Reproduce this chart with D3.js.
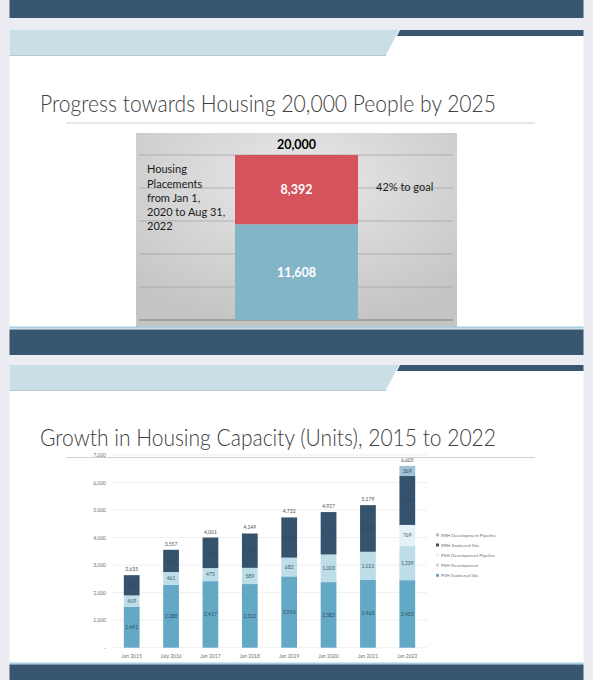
<!DOCTYPE html>
<html><head><meta charset="utf-8">
<script src="https://cdn.jsdelivr.net/npm/d3@7"></script>
<style>body{margin:0;background:#ecedf2;}svg{display:block;}</style>
</head><body>
<svg id="c" width="593" height="680"></svg>
<script>
// ---- Data: chart 1 ----
const goalValue = 20000;
const progressLabels = ["Placed", "Remaining"];
const progressValues = [11608, 8392];
const progressTicks = [0, 4000, 8000, 12000, 16000, 20000];
const noteLines = ["Housing", "Placements", "from Jan 1,", "2020 to Aug 31,", "2022"];
const pctText = "42% to goal";

// ---- Data: chart 2 ----
const periods = ["Jan 2015", "July 2016", "Jan 2017", "Jan 2018", "Jan 2019", "Jan 2020", "Jan 2021", "Jan 2022"];
const seriesNames = ["PSH Scattered Site", "PSH Development", "PSH Development Pipeline", "RRH Scattered Site", "RRH Development Pipeline"];
const pshScattered = [1491, 2288, 2417, 2312, 2590, 2383, 2463, 2452];
const pshDevelopment = [409, 461, 475, 589, 682, 1003, 1021, 1239];
const pshPipeline = [0, 0, 0, 0, 0, 0, 0, 769];
const rrhScattered = [735, 808, 1109, 1248, 1460, 1541, 1695, 1776];
const rrhPipeline = [0, 0, 0, 0, 0, 0, 0, 369];
const totals = [2635, 3557, 4001, 4149, 4732, 4927, 5179, 6605];
const yTicks2 = [0, 1000, 2000, 3000, 4000, 5000, 6000, 7000];

const svg = d3.select("#c");
const dark = "#38566f";
const band = "#c9dfe6";
const fmt = d3.format(",");
const FONT = "Lato, 'Open Sans', sans-serif";

svg.append("rect").attr("width",593).attr("height",680).attr("fill","#ecedf2");

// slide remnants
svg.append("rect").attr("x",9.5).attr("y",0).attr("width",574).attr("height",18).attr("fill",dark);

function slide(top, bottom, title, titleY) {
  svg.append("rect").attr("x",9.5).attr("y",top).attr("width",574).attr("height",bottom-top).attr("fill","#fff");
  svg.append("polygon").attr("points",`9.5,${top} 399,${top} 386,${top+25} 9.5,${top+25}`).attr("fill",band);
  svg.append("line").attr("x1",9.5).attr("x2",386).attr("y1",top+25.5).attr("y2",top+25.5).attr("stroke","#b7c6cf").attr("stroke-width",1);
  svg.append("polygon").attr("points",`400,${top} 583.5,${top} 583.5,${top+6} 397,${top+6}`).attr("fill",dark);
  svg.append("text").attr("x",40).attr("y",titleY).attr("font-family",FONT).attr("font-weight",300)
    .attr("font-size",23.5).attr("fill","#404040").attr("textLength",456).attr("lengthAdjust","spacingAndGlyphs").text(title);
  svg.append("line").attr("x1",66).attr("x2",535).attr("y1",titleY+11.5).attr("y2",titleY+11.5).attr("stroke","#cfcfd4").attr("stroke-width",1);
}

slide(30, 327, "Progress towards Housing 20,000 People by 2025", 111.5);

// ---- Chart 1 ----
const defs = svg.append("defs");
const rg = defs.append("radialGradient").attr("id","gbg").attr("cx","50%").attr("cy","25%").attr("r","75%");
rg.append("stop").attr("offset","0%").attr("stop-color","#e9e9e9");
rg.append("stop").attr("offset","100%").attr("stop-color","#c4c4c4");
svg.append("rect").attr("x",136).attr("y",133).attr("width",321).attr("height",194).attr("fill","url(#gbg)");

const y1 = d3.scaleLinear().domain([0, goalValue]).range([320, 155]);
const x1 = d3.scaleBand().domain(["goal"]).range([136, 457]).paddingInner(0).paddingOuter(0.805);
svg.append("g").selectAll("line").data(progressTicks).join("line")
  .attr("x1",139).attr("x2",453).attr("y1",d=>y1(d)).attr("y2",d=>y1(d))
  .attr("stroke",d=>d===0?"#7f7f7f":"#a6a6a6").attr("stroke-width",d=>d===0?1.2:0.8);

let acc = 0;
const stack1 = progressValues.map((v,i)=>{const s={k:progressLabels[i],y0:acc,y1:acc+v,v}; acc+=v; return s;});
const c1 = ["#84b5c7", "#d5535c"];
svg.append("g").selectAll("rect").data(stack1).join("rect")
  .attr("x",x1("goal")).attr("width",x1.bandwidth())
  .attr("y",d=>y1(d.y1)).attr("height",d=>y1(d.y0)-y1(d.y1)).attr("fill",(d,i)=>c1[i]);
svg.append("g").selectAll("text").data(stack1).join("text")
  .attr("x",x1("goal")+x1.bandwidth()/2).attr("y",d=>y1((d.y0+d.y1)/2)+4.5)
  .attr("text-anchor","middle").attr("font-family",FONT).attr("font-weight","bold").attr("font-size",12.5)
  .attr("fill","#fff").text(d=>fmt(d.v));
svg.append("text").attr("x",x1("goal")+x1.bandwidth()/2).attr("y",y1(goalValue)-6)
  .attr("text-anchor","middle").attr("font-family",FONT).attr("font-weight","bold").attr("font-size",12.5)
  .attr("fill","#000").text(fmt(goalValue));
svg.append("g").selectAll("text").data(noteLines).join("text")
  .attr("x",147).attr("y",(d,i)=>173.3+i*14.2).attr("font-family",FONT).attr("font-size",11).attr("fill","#1a1a1a").text(d=>d);
svg.append("text").attr("x",376).attr("y",191).attr("font-family",FONT).attr("font-size",11).attr("fill","#1a1a1a").text(pctText);

// slide 1 footer
svg.append("rect").attr("x",9.5).attr("y",326.5).attr("width",574).attr("height",2).attr("fill","#a9cde0");
svg.append("rect").attr("x",9.5).attr("y",329.5).attr("width",574).attr("height",25.5).attr("fill",dark);

slide(365, 663, "Growth in Housing Capacity (Units), 2015 to 2022", 446);

// ---- Chart 2 ----
const y2 = d3.scaleLinear().domain([0, 7000]).range([647.7, 455]);
const x2 = d3.scaleBand().domain(periods).range([112, 427]).paddingInner(0.6).paddingOuter(0.3);
svg.append("g").selectAll("line").data(yTicks2).join("line")
  .attr("x1",112).attr("x2",427).attr("y1",d=>y2(d)).attr("y2",d=>y2(d))
  .attr("stroke","#e8e8e8").attr("stroke-width",0.7);
const yAxis = svg.append("g").attr("transform","translate(106,0)")
  .call(d3.axisLeft(y2).tickValues(yTicks2).tickSize(0).tickFormat(d=>d===0?"-":fmt(d)));
yAxis.select(".domain").remove();
yAxis.selectAll("text").attr("font-family",FONT).attr("font-size",5).attr("fill","#6f6f6f").attr("x",0);
const xAxis = svg.append("g").attr("transform","translate(0,650)")
  .call(d3.axisBottom(x2).tickSize(0));
xAxis.select(".domain").remove();
xAxis.selectAll("text").attr("font-family",FONT).attr("font-size",5).attr("fill","#6f6f6f").attr("dy","0.9em");

const seriesData = [pshScattered, pshDevelopment, pshPipeline, rrhScattered, rrhPipeline];
const colors = ["#63a9c6", "#bddde9", "#e4f1f6", "#36536e", "#9fc2d9"];
const labelColors = ["#2f4f65", "#3f5a6e", "#3f5a6e", "#2c4860", "#2f4f65"];
const rows = periods.map((p,i)=>{const r={period:p}; seriesNames.forEach((s,j)=>r[s]=seriesData[j][i]); return r;});
const stacked = d3.stack().keys(seriesNames)(rows);
const g2 = svg.append("g");
stacked.forEach((layer, j)=>{
  g2.append("g").selectAll("rect").data(layer).join("rect")
    .attr("x",d=>x2(d.data.period)).attr("width",x2.bandwidth())
    .attr("y",d=>y2(d[1])).attr("height",d=>y2(d[0])-y2(d[1])).attr("fill",colors[j]);
  g2.append("g").selectAll("text").data(layer.filter(d=>d[1]-d[0]>0)).join("text")
    .attr("x",d=>x2(d.data.period)+x2.bandwidth()/2).attr("y",d=>y2((d[0]+d[1])/2)+1.7)
    .attr("text-anchor","middle").attr("font-family",FONT).attr("font-size",5).attr("fill",labelColors[j])
    .text(d=>fmt(d[1]-d[0]));
});
svg.append("g").selectAll("text").data(periods).join("text")
  .attr("x",d=>x2(d)+x2.bandwidth()/2).attr("y",(d,i)=>y2(totals[i])-4)
  .attr("text-anchor","middle").attr("font-family",FONT).attr("font-size",5).attr("fill","#555")
  .text((d,i)=>fmt(totals[i]));

// legend
const legendOrder = seriesNames.map((s,i)=>({s,i})).reverse();
const lg = svg.append("g").selectAll("g").data(legendOrder).join("g")
  .attr("transform",(d,k)=>`translate(436,${535+k*10.1})`);
lg.append("rect").attr("x",0).attr("y",-1.6).attr("width",3).attr("height",3).attr("fill",d=>colors[d.i]);
lg.append("text").attr("x",5).attr("y",1.6).attr("font-family",FONT).attr("font-size",4.6).attr("fill","#6f6f6f").text(d=>d.s);

// footer
svg.append("rect").attr("x",9.5).attr("y",662.5).attr("width",574).attr("height",2).attr("fill","#a9cde0");
svg.append("rect").attr("x",9.5).attr("y",664.5).attr("width",574).attr("height",16).attr("fill",dark);
</script>
</body></html>
